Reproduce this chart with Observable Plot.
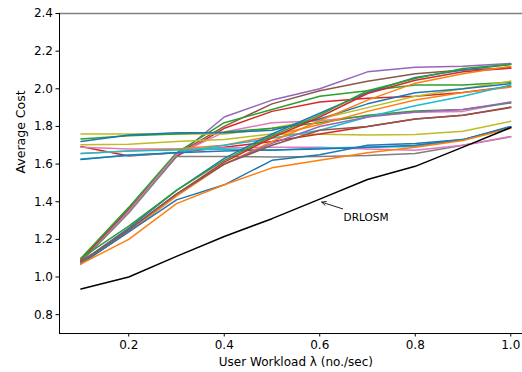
<!DOCTYPE html>
<html>
<head>
<meta charset="utf-8">
<script src="https://cdn.jsdelivr.net/npm/d3@7"></script>
<script src="https://cdn.jsdelivr.net/npm/@observablehq/plot@0.6"></script>
<style>
  html, body { margin: 0; padding: 0; background: #fff; overflow: hidden; }
</style>
</head>
<body>
<div id="chart"></div>
<script>
// User workload λ (requests per second)
const workload = [0.1, 0.2, 0.3, 0.4, 0.5, 0.6, 0.7, 0.8, 0.9, 1.0];
const xTicks = [0.2, 0.4, 0.6, 0.8, 1.0];
const yTicks = [0.8, 1.0, 1.2, 1.4, 1.6, 1.8, 2.0, 2.2, 2.4];

// Average cost of the proposed scheme
const drlosm = [0.936, 1.0, 1.11, 1.215, 1.31, 1.414, 1.518, 1.588, 1.69, 1.794];

// Average cost of the baseline configurations
const cfg01 = [1.09, 1.36, 1.64, 1.85, 1.94, 2.00, 2.09, 2.115, 2.12, 2.135];
const cfg02 = [1.09, 1.36, 1.65, 1.80, 1.92, 1.99, 2.04, 2.08, 2.10, 2.11];
const cfg03 = [1.10, 1.37, 1.66, 1.82, 1.89, 1.96, 1.99, 2.02, 2.02, 2.035];
const cfg04 = [1.09, 1.35, 1.64, 1.79, 1.88, 1.93, 1.95, 1.96, 1.98, 2.013];
const cfg05 = [1.08, 1.35, 1.65, 1.77, 1.82, 1.83, 1.855, 1.875, 1.88, 1.93];
const cfg06 = [1.08, 1.34, 1.64, 1.64, 1.638, 1.64, 1.645, 1.656, 1.70, 1.745];
const cfg07 = [1.76, 1.76, 1.76, 1.76, 1.79, 1.84, 1.90, 1.96, 2.00, 2.041];
const cfg08 = [1.733, 1.75, 1.76, 1.77, 1.79, 1.82, 1.86, 1.882, 1.89, 1.925];
const cfg09 = [1.72, 1.755, 1.767, 1.767, 1.78, 1.84, 1.92, 1.979, 2.00, 2.027];
const cfg10 = [1.703, 1.705, 1.72, 1.73, 1.76, 1.758, 1.755, 1.757, 1.774, 1.827];
const cfg11 = [1.693, 1.643, 1.66, 1.69, 1.72, 1.76, 1.80, 1.84, 1.86, 1.90];
const cfg12 = [1.69, 1.68, 1.68, 1.685, 1.69, 1.69, 1.68, 1.673, 1.70, 1.747];
const cfg13 = [1.656, 1.67, 1.68, 1.70, 1.75, 1.81, 1.88, 1.94, 1.98, 2.009];
const cfg14 = [1.656, 1.67, 1.675, 1.68, 1.673, 1.686, 1.69, 1.694, 1.73, 1.797];
const cfg15 = [1.627, 1.645, 1.66, 1.70, 1.737, 1.78, 1.85, 1.91, 1.96, 2.02];
const cfg16 = [1.625, 1.648, 1.66, 1.67, 1.675, 1.68, 1.69, 1.70, 1.73, 1.80];
const cfg17 = [1.08, 1.26, 1.46, 1.63, 1.76, 1.87, 1.98, 2.06, 2.10, 2.13];
const cfg18 = [1.10, 1.27, 1.46, 1.62, 1.75, 1.86, 1.99, 2.055, 2.108, 2.13];
const cfg19 = [1.08, 1.25, 1.44, 1.61, 1.74, 1.85, 1.975, 2.045, 2.09, 2.11];
const cfg20 = [1.07, 1.24, 1.43, 1.60, 1.72, 1.83, 1.94, 2.03, 2.08, 2.12];
const cfg21 = [1.08, 1.25, 1.44, 1.60, 1.71, 1.80, 1.85, 1.877, 1.89, 1.929];
const cfg22 = [1.08, 1.25, 1.44, 1.60, 1.70, 1.78, 1.80, 1.84, 1.86, 1.903];
const cfg23 = [1.07, 1.24, 1.41, 1.49, 1.62, 1.65, 1.70, 1.71, 1.73, 1.797];
const cfg24 = [1.07, 1.20, 1.39, 1.49, 1.58, 1.62, 1.66, 1.69, 1.725, 1.79];

const baselines = [cfg01, cfg02, cfg03, cfg04, cfg05, cfg06, cfg07, cfg08, cfg09, cfg10, cfg11, cfg12,
                   cfg13, cfg14, cfg15, cfg16, cfg17, cfg18, cfg19, cfg20, cfg21, cfg22, cfg23, cfg24];

// Line colours (tab10 palette)
const tab = {
  blue: "#1f77b4", orange: "#ff7f0e", green: "#2ca02c", red: "#d62728", purple: "#9467bd",
  brown: "#8c564b", pink: "#e377c2", gray: "#7f7f7f", olive: "#bcbd22", cyan: "#17becf"
};
const baselineColors = [
  tab.purple, tab.brown, tab.green, tab.red, tab.pink, tab.gray,
  tab.olive, tab.green, tab.blue, tab.olive, tab.red, tab.pink,
  tab.orange, tab.cyan, tab.cyan, tab.blue,
  tab.blue, tab.green, tab.red, tab.orange, tab.purple, tab.brown, tab.blue, tab.orange
];

// Annotation: label position and the point on the DRLOSM curve it points to
const annotLabel = "DRLOSM";
const annotText = {x: 0.65, y: 1.318};
const annotTail = {x: 0.648, y: 1.362};
const annotHead = {x: 0.604, y: 1.398};

const toRows = (vals) => workload.map((w, i) => ({x: w, y: vals[i]}));

const marks = [];
// Axis frame: gray line at the top, black left and bottom spines
marks.push(Plot.ruleY([2.4], {stroke: "#808080", strokeWidth: 1.6}));
baselines.forEach((vals, i) => {
  marks.push(Plot.line(toRows(vals), {x: "x", y: "y", stroke: baselineColors[i], strokeWidth: 1.5}));
});
marks.push(Plot.line(toRows(drlosm), {x: "x", y: "y", stroke: "black", strokeWidth: 1.5}));
marks.push(Plot.arrow([0], {
  x1: () => annotTail.x, y1: () => annotTail.y,
  x2: () => annotHead.x, y2: () => annotHead.y,
  stroke: "#222", strokeWidth: 1, headLength: 7, headAngle: 50
}));
marks.push(Plot.text([annotLabel], {
  x: () => annotText.x, y: () => annotText.y, text: d => d,
  textAnchor: "start", fontSize: 10.5, fill: "black"
}));
marks.push(Plot.ruleX([0.055], {stroke: "black", strokeWidth: 1}));
marks.push(Plot.ruleY([0.7], {stroke: "black", strokeWidth: 1}));
// Axis titles
marks.push(Plot.text(["User Workload λ (no./sec)"], {
  x: 0.55, frameAnchor: "bottom", dy: 32, text: d => d, fontSize: 12, fill: "black"
}));
marks.push(Plot.text(["Average Cost"], {
  y: 1.55, frameAnchor: "left", dx: -39, rotate: -90, text: d => d, fontSize: 12.5, fill: "black"
}));

const chart = Plot.plot({
  width: 522,
  height: 372,
  marginLeft: 59,
  marginRight: 0,
  marginTop: 13,
  marginBottom: 39,
  style: {fontFamily: "'DejaVu Sans', sans-serif", fontSize: "12px", color: "black", background: "white"},
  x: {domain: [0.055, 1.0246], ticks: xTicks, tickFormat: d => d.toFixed(1), tickSize: 3.5, tickPadding: 3, label: null},
  y: {domain: [0.7, 2.4], ticks: yTicks, tickFormat: d => d.toFixed(1), tickSize: 3.5, tickPadding: 3, label: null},
  marks
});
document.getElementById("chart").appendChild(chart);
</script>
</body>
</html>
